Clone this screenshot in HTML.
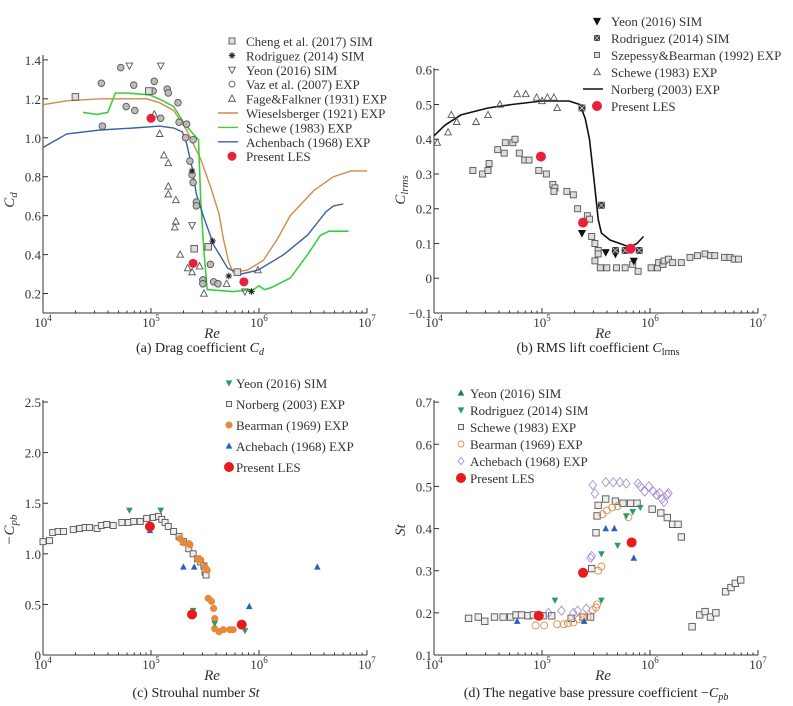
<!DOCTYPE html>
<html><head><meta charset="utf-8"><style>
body{margin:0;background:#fff}
svg{display:block;font-family:"Liberation Serif",serif}
</style></head><body>
<svg id="fig" width="793" height="706" viewBox="0 0 793 706"></svg>
<script>
// ---------- DATA (x = log10 Re, y = value) ----------
const aCheng=[[4.30,1.21],[4.98,1.24],[5.40,0.43],[5.53,0.44],[5.80,0.31]];
const aRodriguez=[[5.38,0.83],[5.57,0.47],[5.72,0.29],[5.93,0.21]];
const aYeon=[[4.80,1.37],[5.09,1.37],[5.38,0.55],[5.87,0.21]];
const aVaz=[[4.54,1.28],[4.72,1.36],[4.84,1.27],[4.55,1.06],[4.77,1.16],[4.85,1.14],[5.03,1.29],[5.02,1.24],[5.09,1.10],[5.15,1.25],[5.16,1.23],[5.25,1.18],[5.26,1.08],[5.33,1.07],[5.32,1.00],[5.36,0.88],[5.38,0.81],[5.39,0.99],[5.39,0.77],[5.42,0.67],[5.42,0.65],[5.48,0.27],[5.48,0.25],[5.55,0.35],[5.58,0.26],[5.62,0.25]];
const aFage=[[5.03,1.12],[5.08,1.02],[5.12,0.91],[5.16,0.87],[5.16,0.75],[5.16,0.71],[5.23,0.68],[5.23,0.57],[5.22,0.54],[5.27,0.40],[5.34,0.33],[5.38,0.31],[5.49,0.20],[5.70,0.25],[5.99,0.32],[5.45,0.34]];
const aLES=[[5.0,1.10],[5.39,0.355],[5.86,0.26]];
const aWiesels=[[4.0,1.17],[4.22,1.19],[4.53,1.20],[4.96,1.20],[5.08,1.18],[5.21,1.14],[5.33,1.04],[5.46,0.89],[5.55,0.75],[5.63,0.61],[5.67,0.48],[5.72,0.36],[5.76,0.31],[5.89,0.32],[6.04,0.37],[6.17,0.48],[6.29,0.60],[6.51,0.73],[6.69,0.80],[6.85,0.83],[7.0,0.83]];
const aSchewe=[[4.37,1.13],[4.50,1.12],[4.60,1.13],[4.67,1.23],[4.77,1.23],[4.99,1.22],[5.11,1.19],[5.21,1.16],[5.30,1.08],[5.39,1.02],[5.44,0.99],[5.46,0.68],[5.49,0.42],[5.52,0.22],[5.76,0.21],[5.95,0.22],[6.0,0.24],[6.05,0.22],[6.11,0.23],[6.29,0.28],[6.45,0.40],[6.57,0.50],[6.65,0.52],[6.76,0.52],[6.83,0.52]];
const aAchen=[[4.0,0.95],[4.22,1.02],[4.53,1.04],[4.84,1.05],[5.08,1.06],[5.21,1.05],[5.29,1.03],[5.33,0.97],[5.38,0.85],[5.42,0.71],[5.49,0.59],[5.58,0.45],[5.71,0.33],[5.83,0.30],[5.99,0.32],[6.23,0.40],[6.45,0.50],[6.62,0.62],[6.69,0.65],[6.78,0.66]];
const bNorberg=[[4.0,0.41],[4.10,0.44],[4.25,0.47],[4.50,0.49],[4.72,0.50],[5.0,0.51],[5.25,0.51],[5.35,0.50],[5.40,0.46],[5.44,0.40],[5.49,0.26],[5.52,0.17],[5.55,0.13],[5.63,0.11],[5.72,0.10],[5.81,0.09],[5.88,0.10],[5.94,0.12]];
const bSchewe=[[4.03,0.39],[4.13,0.42],[4.16,0.47],[4.21,0.45],[4.39,0.45],[4.50,0.47],[4.61,0.50],[4.77,0.53],[4.85,0.53],[4.95,0.52],[5.0,0.51],[5.05,0.52],[5.11,0.52],[5.14,0.49]];
const bSzep=[[4.36,0.31],[4.45,0.30],[4.50,0.31],[4.51,0.33],[4.59,0.37],[4.65,0.36],[4.66,0.39],[4.73,0.39],[4.75,0.40],[4.79,0.36],[4.84,0.34],[4.88,0.34],[4.97,0.31],[5.04,0.30],[5.10,0.27],[5.12,0.26],[5.11,0.25],[5.23,0.25],[5.29,0.24],[5.33,0.20],[5.42,0.18],[5.44,0.17],[5.46,0.12],[5.49,0.10],[5.49,0.05],[5.52,0.08],[5.52,0.07],[5.54,0.03],[5.60,0.03],[5.69,0.03],[5.77,0.03],[5.84,0.04],[5.89,0.02],[6.01,0.03],[6.07,0.03],[6.08,0.045],[6.12,0.04],[6.13,0.05],[6.17,0.055],[6.21,0.045],[6.29,0.045],[6.37,0.06],[6.44,0.065],[6.51,0.07],[6.56,0.065],[6.60,0.065],[6.69,0.06],[6.74,0.06],[6.78,0.055],[6.82,0.055]];
const bYeon=[[5.37,0.13],[5.59,0.075],[5.68,0.07],[5.85,0.05]];
const bRodriguez=[[5.37,0.49],[5.55,0.21],[5.68,0.08],[5.77,0.08],[5.90,0.08]];
const bLES=[[4.99,0.35],[5.38,0.16],[5.82,0.085]];
const cNorberg=[[4.0,1.12],[4.06,1.13],[4.09,1.21],[4.14,1.22],[4.19,1.22],[4.28,1.24],[4.34,1.25],[4.39,1.26],[4.43,1.26],[4.50,1.25],[4.54,1.28],[4.59,1.29],[4.65,1.28],[4.73,1.31],[4.79,1.31],[4.84,1.32],[4.90,1.32],[4.96,1.35],[5.02,1.36],[5.07,1.37],[5.10,1.34],[5.13,1.31],[5.16,1.27],[5.21,1.22],[5.26,1.17],[5.30,1.12],[5.35,1.05],[5.39,1.00],[5.43,0.95],[5.46,0.92],[5.49,0.88],[5.50,0.82],[5.51,0.79]];
const cBearman=[[5.27,1.15],[5.30,1.11],[5.35,1.10],[5.36,1.09],[5.43,0.95],[5.46,0.94],[5.50,0.87],[5.52,0.84],[5.53,0.56],[5.56,0.53],[5.58,0.46],[5.59,0.36],[5.59,0.26],[5.63,0.23],[5.67,0.25],[5.73,0.25],[5.76,0.25]];
const cYeon=[[4.80,1.43],[5.09,1.43],[5.39,0.44],[5.59,0.31],[5.87,0.24]];
const cAchen=[[4.99,1.23],[5.30,0.87],[5.40,0.87],[5.91,0.48],[6.54,0.87]];
const cLES=[[4.99,1.27],[5.38,0.40],[5.84,0.30]];
const dSchewe=[[4.32,0.187],[4.41,0.19],[4.47,0.18],[4.56,0.19],[4.64,0.19],[4.71,0.19],[4.76,0.195],[4.81,0.195],[4.87,0.193],[4.92,0.195],[5.01,0.193],[5.09,0.193],[5.27,0.187],[5.38,0.19],[5.45,0.19],[5.46,0.305],[5.50,0.39],[5.51,0.43],[5.52,0.455],[5.59,0.47],[5.68,0.465],[5.75,0.46],[5.82,0.46],[5.88,0.46],[6.02,0.446],[6.10,0.437],[6.16,0.426],[6.21,0.41],[6.26,0.41],[6.29,0.38],[6.39,0.167],[6.46,0.195],[6.51,0.203],[6.56,0.19],[6.61,0.20],[6.70,0.25],[6.75,0.26],[6.79,0.27],[6.84,0.278]];
const dBearman=[[4.94,0.17],[5.02,0.17],[5.14,0.173],[5.20,0.173],[5.24,0.175],[5.29,0.177],[5.34,0.185],[5.38,0.19],[5.42,0.19],[5.47,0.207],[5.50,0.213],[5.51,0.22],[5.52,0.30],[5.55,0.31],[5.56,0.434],[5.60,0.443],[5.65,0.45],[5.70,0.453],[5.80,0.427]];
const dAchen=[[5.06,0.20],[5.18,0.205],[5.29,0.20],[5.33,0.205],[5.41,0.21],[5.45,0.33],[5.46,0.335],[5.47,0.503],[5.49,0.483],[5.59,0.51],[5.66,0.51],[5.72,0.51],[5.78,0.507],[5.89,0.507],[5.91,0.50],[5.95,0.488],[5.99,0.50],[6.03,0.488],[6.06,0.48],[6.09,0.484],[6.11,0.47],[6.13,0.463],[6.16,0.48],[6.17,0.484]];
const dYeon=[[4.77,0.18],[5.39,0.18],[5.59,0.40],[5.67,0.40],[5.85,0.33]];
const dRodriguez=[[5.12,0.23],[5.55,0.23],[5.55,0.34],[5.70,0.36],[5.78,0.43],[5.84,0.44],[5.91,0.45]];
const dLES=[[4.97,0.193],[5.38,0.295],[5.83,0.367]];
const aYTicks=[0.2,0.4,0.6,0.8,1.0,1.2,1.4];
const bYTicks=[-0.1,0,0.1,0.2,0.3,0.4,0.5,0.6];
const cYTicks=[0,0.5,1.0,1.5,2.0,2.5];
const dYTicks=[0.1,0.2,0.3,0.4,0.5,0.6,0.7];
const xDecades=[4,5,6,7];

const NS='http://www.w3.org/2000/svg';
const svg=document.getElementById('fig');
function mk(tag,attrs,parent){const e=document.createElementNS(NS,tag);for(const k in attrs)e.setAttribute(k,attrs[k]);(parent||svg).appendChild(e);return e;}
function makePanel(name,x0,x1,yTop,yBot,vMin,vMax){
  const g=mk('g',{});
  
  
  return {g,x:(l)=>x0+(l-4)/3*(x1-x0),y:(v)=>yBot-(v-vMin)/(vMax-vMin)*(yBot-yTop),x0,x1,yTop,yBot};
}
function fmt(v,dec){if(v===0)return '0';let s=v.toFixed(dec);return s.replace('-','\u2212');}
function axes(P,yticks,ymin,ymax,dec){
  const ax=mk('g',{stroke:'#333','stroke-width':1,fill:'none'},P.g);
  
  
  mk('line',{x1:P.x0,y1:P.yBot,x2:P.x1,y2:P.yBot},ax);
  mk('line',{x1:P.x0,y1:P.yBot,x2:P.x0,y2:P.yTop},ax);
  for(let d=4;d<7;d++)for(let m=2;m<10;m++){const xx=P.x(d+Math.log10(m));mk('line',{x1:xx,y1:P.yBot,x2:xx,y2:P.yBot-2.5},ax);}
  xDecades.forEach(d=>{const xx=P.x(d);mk('line',{x1:xx,y1:P.yBot,x2:xx,y2:P.yBot-5},ax);
    const t=mk('text',{x:xx,y:P.yBot+14,'text-anchor':'middle','font-size':13,fill:'#333',stroke:'none'},P.g);
    
    
    t.innerHTML='10<tspan dy="-6" font-size="9">'+d+'</tspan>';});
  yticks.forEach(v=>{const yy=P.y(v);mk('line',{x1:P.x0,y1:yy,x2:P.x0+5,y2:yy},ax);
    const t=mk('text',{x:P.x0-2,y:yy+5,'text-anchor':'end','font-size':13,fill:'#333'},P.g);
    
    
    t.textContent=fmt(v,dec);});
}
function marker(P,type,pts,opt,name){
  const g=mk('g',{},P.g);
  
  
  pts.forEach(p=>drawSym(g,type,P.x(p[0]),P.y(p[1]),opt));
}
function drawSym(g,type,cx,cy,o){
  const s=o.s||3.3, st=o.stroke||'#555', fl=o.fill||'none', sw=o.sw||0.9;
  if(type==='circle')mk('circle',{cx,cy,r:s,fill:fl,stroke:st,'stroke-width':sw},g);
  else if(type==='dot')mk('circle',{cx,cy,r:s,fill:fl,stroke:'none'},g);
  else if(type==='square')mk('rect',{x:cx-s,y:cy-s,width:2*s,height:2*s,fill:fl,stroke:st,'stroke-width':sw},g);
  else if(type==='xsquare'){mk('rect',{x:cx-s,y:cy-s,width:2*s,height:2*s,fill:fl,stroke:st,'stroke-width':sw},g);mk('path',{d:`M${cx-s} ${cy-s}L${cx+s} ${cy+s}M${cx+s} ${cy-s}L${cx-s} ${cy+s}`,stroke:'#ccc','stroke-width':0.8},g);}
  else if(type==='up')mk('path',{d:`M${cx} ${cy-s*1.1}L${cx+s} ${cy+s*0.8}L${cx-s} ${cy+s*0.8}Z`,fill:fl,stroke:st,'stroke-width':sw},g);
  else if(type==='down')mk('path',{d:`M${cx} ${cy+s*1.1}L${cx+s} ${cy-s*0.8}L${cx-s} ${cy-s*0.8}Z`,fill:fl,stroke:st,'stroke-width':sw},g);
  else if(type==='diamond')mk('path',{d:`M${cx} ${cy-s*1.2}L${cx+s} ${cy}L${cx} ${cy+s*1.2}L${cx-s} ${cy}Z`,fill:fl,stroke:st,'stroke-width':sw},g);
  else if(type==='star')mk('path',{d:`M${cx-s} ${cy}H${cx+s}M${cx} ${cy-s}V${cy+s}M${cx-s*.7} ${cy-s*.7}L${cx+s*.7} ${cy+s*.7}M${cx+s*.7} ${cy-s*.7}L${cx-s*.7} ${cy+s*.7}`,stroke:st,'stroke-width':1},g);
  else if(type==='line')mk('line',{x1:cx-14,y1:cy,x2:cx+6,y2:cy,stroke:st,'stroke-width':1.4},g);
}
function curve(P,pts,color,name,w){
  const p=mk('path',{d:pts.map((q,i)=>(i?'L':'M')+P.x(q[0]).toFixed(1)+' '+P.y(q[1]).toFixed(1)).join(''),fill:'none',stroke:color,'stroke-width':w||1.4},P.g);
  
  
}
function legend(P,x,y0,dy,items){
  const g=mk('g',{},P.g);
  
  
  items.forEach((it,i)=>{const yy=y0+i*dy;
    const e=mk('g',{},g);
    
    
    drawSym(e,it[0],x,yy,it[1]);
    mk('text',{x:x+(it[3]||14),y:yy+5,'font-size':13,fill:'#333'},e).textContent=it[2];});
}
function labels(P,ylab,yx,yy,cap,capx,capy){
  let t=mk('text',{x:yx,y:yy,'font-size':15,fill:'#333','font-style':'italic',transform:`rotate(-90 ${yx} ${yy})`,'text-anchor':'middle'},P.g);
  
  
  t.innerHTML=ylab;
  t=mk('text',{x:(P.x0+P.x1)/2+7,y:P.yBot+25,'font-size':15,fill:'#333','font-style':'italic','text-anchor':'middle'},P.g);
  
  
  t.textContent='Re';
  t=mk('text',{x:capx,y:capy,'font-size':14,fill:'#222','text-anchor':'middle'},P.g);
  
  
  t.innerHTML=cap;
}
const RED='#e8203a';
const A=makePanel('panel-drag-coefficient',43,367,55,313,0.1,1.425);
axes(A,aYTicks,0.1,1.4,1);
curve(A,aWiesels,'#d08a4a','wieselsberger-line');
curve(A,aSchewe,'#3ccf3c','schewe-line',1.6);
curve(A,aAchen,'#3a5fa8','achenbach-line');
marker(A,'up',aFage,{},'fage-falkner-points');
marker(A,'circle',aVaz,{fill:'#bbb'},'vaz-points');
marker(A,'square',aCheng,{fill:'#ddd'},'cheng-points');
marker(A,'down',aYeon,{},'yeon-points');
marker(A,'star',aRodriguez,{stroke:'#222'},'rodriguez-points');
marker(A,'dot',aLES,{fill:RED,s:4.5},'present-les-points');
legend(A,232,41,14.4,[['square',{fill:'#ddd',s:3},'Cheng et al. (2017) SIM'],['star',{stroke:'#222'},'Rodriguez (2014) SIM'],['down',{},'Yeon (2016) SIM'],['circle',{s:3},'Vaz et al. (2007) EXP'],['up',{},'Fage&Falkner (1931) EXP'],['line',{stroke:'#d08a4a'},'Wieselsberger (1921) EXP'],['line',{stroke:'#3ccf3c'},'Schewe (1983) EXP'],['line',{stroke:'#3a5fa8'},'Achenbach (1968) EXP'],['dot',{fill:RED,s:4.5},'Present LES']]);
labels(A,'C<tspan font-size="11" dy="3">d</tspan>',14,200,'(a) Drag coefficient <tspan font-style="italic">C</tspan><tspan font-style="italic" font-size="10" dy="3">d</tspan>',200,352);
const B=makePanel('panel-rms-lift',434,758,68,313,-0.1,0.605);
axes(B,bYTicks,-0.1,0.6,1);
curve(B,bNorberg,'#111','norberg-line',1.6);
marker(B,'up',bSchewe,{},'schewe-points');
marker(B,'square',bSzep,{fill:'#ddd',s:3},'szepessy-points');
marker(B,'down',bYeon,{fill:'#111',stroke:'#111'},'yeon-points');
marker(B,'xsquare',bRodriguez,{fill:'#333',stroke:'#333',s:3},'rodriguez-points');
marker(B,'dot',bLES,{fill:RED,s:5},'present-les-points');
legend(B,597,21,17,[['down',{fill:'#111',stroke:'#111'},'Yeon (2016) SIM'],['xsquare',{fill:'#333',stroke:'#333',s:2.5},'Rodriguez (2014) SIM'],['square',{fill:'#ddd',s:2.5},'Szepessy&Bearman (1992) EXP'],['up',{},'Schewe (1983) EXP'],['line',{stroke:'#111'},'Norberg (2003) EXP'],['dot',{fill:RED,s:5},'Present LES']]);
labels(B,'C<tspan font-size="11" dy="3">lrms</tspan>',405,190,'(b) RMS lift coefficient <tspan font-style="italic">C</tspan><tspan font-size="10" dy="3">lrms</tspan>',598,352);
const C=makePanel('panel-strouhal',43,367,400,655,0,2.52);
axes(C,cYTicks,0,2.5,1);
marker(C,'square',cNorberg,{fill:'#eee',s:3},'norberg-points');
marker(C,'dot',cBearman,{fill:'#e8883a',s:3.6},'bearman-points');
marker(C,'down',cYeon,{fill:'#2a9a6a',stroke:'none'},'yeon-points');
marker(C,'up',cAchen,{fill:'#2a5fc0',stroke:'none'},'achenbach-points');
marker(C,'dot',cLES,{fill:'#e81a1a',s:5},'present-les-points');
legend(C,229,383,21,[['down',{fill:'#2a9a6a',stroke:'none'},'Yeon (2016) SIM',7],['square',{fill:'#eee',s:2.5},'Norberg (2003) EXP',7],['dot',{fill:'#e8883a',s:3.5},'Bearman (1969) EXP',7],['up',{fill:'#2a5fc0',stroke:'none'},'Achebach (1968) EXP',7],['dot',{fill:'#e81a1a',s:5},'Present LES',7]]);
labels(C,'\u2212C<tspan font-size="11" dy="3">pb</tspan>',14,530,'(c) Strouhal number <tspan font-style="italic">St</tspan>',196,697);
const D=makePanel('panel-base-pressure',434,758,400,655,0.1,0.705);
axes(D,dYTicks,0.1,0.7,1);
marker(D,'square',dSchewe,{fill:'#eee',s:3.2},'schewe-points');
marker(D,'circle',dBearman,{stroke:'#d89050',s:3.5},'bearman-points');
marker(D,'diamond',dAchen,{stroke:'#a890d8',s:3.8},'achenbach-points');
marker(D,'up',dYeon,{fill:'#2a5fc0',stroke:'none'},'yeon-points');
marker(D,'down',dRodriguez,{fill:'#2a9a6a',stroke:'none'},'rodriguez-points');
marker(D,'dot',dLES,{fill:'#e81a1a',s:5},'present-les-points');
legend(D,461,393,17,[['up',{fill:'#1f7a6a',stroke:'none'},'Yeon (2016) SIM',9],['down',{fill:'#2a9a6a',stroke:'none'},'Rodriguez (2014) SIM',9],['square',{fill:'#eee',s:2.5},'Schewe (1983) EXP',9],['circle',{stroke:'#d89050',s:3},'Bearman (1969) EXP',9],['diamond',{stroke:'#a890d8',s:3},'Achebach (1968) EXP',9],['dot',{fill:'#e81a1a',s:5},'Present LES',9]]);
labels(D,'St',405,530,'(d) The negative base pressure coefficient \u2212<tspan font-style="italic">C</tspan><tspan font-style="italic" font-size="10" dy="3">pb</tspan>',596,697);
</script>
</body></html>
